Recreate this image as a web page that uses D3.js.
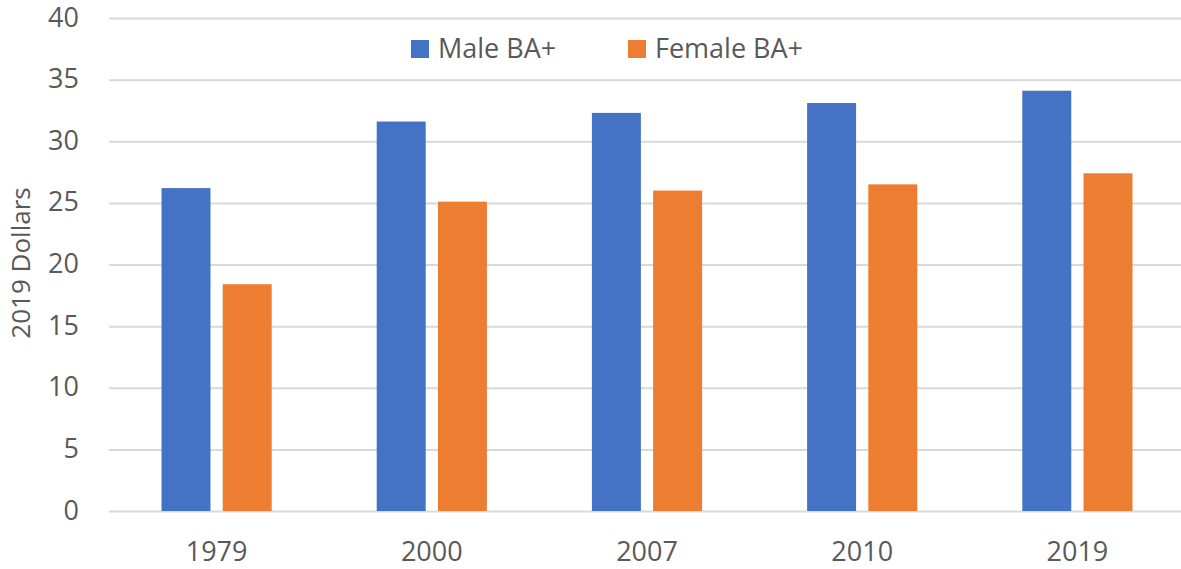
<!DOCTYPE html>
<html>
<head>
<meta charset="utf-8">
<script src="https://cdn.jsdelivr.net/npm/d3@7"></script>
<style>
  body { margin: 0; background: #fff; }
  text { font-family: "Open Sans", sans-serif; fill: #595959; }
</style>
</head>
<body>
<script>
'use strict';
// chart data
const years = ["1979", "2000", "2007", "2010", "2019"];
const seriesNames = ["Male BA+", "Female BA+"];
const maleBA = [26.2, 31.6, 32.3, 33.1, 34.1];
const femaleBA = [18.4, 25.1, 26.0, 26.5, 27.4];
const yTicks = [0, 5, 10, 15, 20, 25, 30, 35, 40];
const colors = ["#4472C4", "#ED7D31"];

(function() {
  const width = 1181, height = 569;
  const plot = { left: 109, right: 1185, top: 18, bottom: 511 };

  const svg = d3.select('body').append('svg')
    .attr('width', width)
    .attr('height', height);

  // scales
  const yScale = d3.scaleLinear().domain([0, 40]).range([plot.bottom, plot.top]);
  const x0 = d3.scaleBand().domain(years)
    .range([plot.left, plot.right])
    .paddingInner(0.488).paddingOuter(0.244);
  const x1 = d3.scaleBand().domain(seriesNames)
    .range([0, x0.bandwidth()])
    .paddingInner(0.2);

  // gridlines + y axis labels
  const yAxis = d3.axisLeft(yScale)
    .tickValues(yTicks)
    .tickSize(-(plot.right - plot.left))
    .tickPadding(30);
  const gy = svg.append('g')
    .attr('transform', `translate(${plot.left},0)`)
    .call(yAxis);
  gy.select('.domain').remove();
  gy.selectAll('line').attr('stroke', '#D9D9D9').attr('stroke-width', 2);
  gy.selectAll('text')
    .attr('font-size', '27px')
    .attr('dy', '0.3em')
    .attr('fill', '#595959')
    .style('font-family', '"Open Sans", sans-serif');

  // bars
  const rows = years.map((y, i) => ({ year: y, values: [maleBA[i], femaleBA[i]] }));
  const groups = svg.selectAll('.grp')
    .data(rows)
    .enter().append('g')
    .attr('transform', d => `translate(${x0(d.year)},0)`);
  groups.selectAll('rect')
    .data(d => d.values.map((v, j) => ({ name: seriesNames[j], value: v, c: colors[j] })))
    .enter().append('rect')
    .attr('x', d => x1(d.name))
    .attr('width', x1.bandwidth())
    .attr('y', d => yScale(d.value))
    .attr('height', d => yScale(0) - yScale(d.value))
    .attr('fill', d => d.c);

  // x labels
  const xAxis = d3.axisBottom(x0).tickSize(0).tickPadding(31);
  const gx = svg.append('g')
    .attr('transform', `translate(0,${plot.bottom})`)
    .call(xAxis);
  gx.select('.domain').remove();
  gx.selectAll('text')
    .attr('font-size', '27px')
    .attr('fill', '#595959')
    .style('font-family', '"Open Sans", sans-serif');

  // y axis title
  svg.append('text')
    .attr('transform', 'translate(30,263)rotate(-90)')
    .attr('text-anchor', 'middle')
    .attr('font-size', '26px')
    .text('2019 Dollars');

  // legend
  const legendX = [411, 628];
  const legend = svg.selectAll('.leg')
    .data(seriesNames)
    .enter().append('g')
    .attr('transform', (d, i) => `translate(${legendX[i]},40)`);
  legend.append('rect')
    .attr('width', 18).attr('height', 18)
    .attr('fill', (d, i) => colors[i]);
  legend.append('text')
    .attr('x', 27)
    .attr('y', 9)
    .attr('dy', '0.35em')
    .attr('font-size', '27px')
    .text(d => d);
})();
</script>
</body>
</html>
